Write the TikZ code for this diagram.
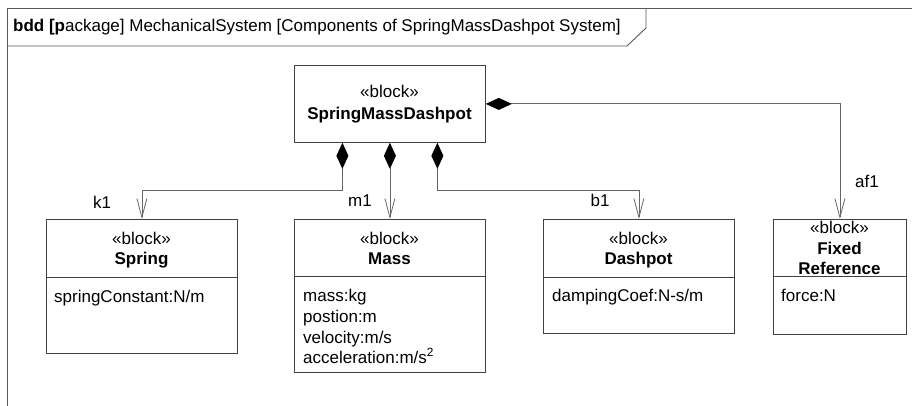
\documentclass[tikz,border=0pt]{standalone}
\usepackage{fontspec}
\setmainfont{Liberation Sans}
\usetikzlibrary{arrows.meta,calc}
\begin{document}
\begin{tikzpicture}[x=1pt,y=-1pt,
  font=\fontsize{17}{20.7}\selectfont,
  frameline/.style={draw=black!65, line width=0.9pt},
  blockbox/.style={draw=black!75, line width=0.8pt, rectangle, inner sep=0pt, anchor=north west},
  divider/.style={draw=black!75, line width=0.8pt},
  txt/.style={inner sep=0pt, anchor=base},
  attr/.style={inner sep=0pt, anchor=base west},
  comp/.style={draw=black!60, line width=0.8pt,
    {Diamond[length=26pt,width=12pt,fill=black,color=black]}-{Straight Barb[length=19pt,width=10pt]}},
]
\useasboundingbox (0,0) rectangle (912,406);
% frame
\draw[frameline] (7,406) -- (7,8) -- (912,8);
\draw[frameline] (7,46) -- (627,46) -- (646,28) -- (646,8);
\node[attr] (title) at (13,32) {\textbf{bdd [p}ackage] MechanicalSystem [Components of SpringMassDashpot System]};

% SpringMassDashpot
\node[blockbox, minimum width=191pt, minimum height=77pt] (smd) at (294,65) {};
\node[txt] (smdst) at (389.5,98) {«block»};
\node[txt] (smdnm) at (389.5,120) {\textbf{SpringMassDashpot}};

% Spring
\node[blockbox, minimum width=191pt, minimum height=134pt] (spring) at (46,219) {};
\draw[divider] (46,277) -- (237,277);
\node[txt] (springst) at (141.5,244) {«block»};
\node[txt] (springnm) at (141.5,264) {\textbf{Spring}};
\node[attr] (springat) at (54,302) {springConstant:N/m};

% Mass
\node[blockbox, minimum width=191pt, minimum height=153pt] (mass) at (294,219) {};
\draw[divider] (294,276) -- (485,276);
\node[txt] (massst) at (389.5,244) {«block»};
\node[txt] (massnm) at (389.5,264) {\textbf{Mass}};
\node[attr] (massat1) at (303,301) {mass:kg};
\node[attr] (massat2) at (303,322) {postion:m};
\node[attr] (massat3) at (303,343) {velocity:m/s};
\node[attr] (massat4) at (303,363) {acceleration:m/s\textsuperscript{2}};

% Dashpot
\node[blockbox, minimum width=191pt, minimum height=114pt] (dash) at (543,219) {};
\draw[divider] (543,277) -- (734,277);
\node[txt] (dashst) at (638.5,244) {«block»};
\node[txt] (dashnm) at (638.5,264) {\textbf{Dashpot}};
\node[attr] (dashat) at (552,301) {dampingCoef:N-s/m};

% Fixed Reference
\node[blockbox, minimum width=133pt, minimum height=115pt] (fixed) at (773,219) {};
\draw[divider] (773,276) -- (906,276);
\node[txt] (fixedst) at (839.5,233) {«block»};
\node[txt] (fixednm) at (839.5,254) {\textbf{Fixed}};
\node[txt] (fixednm2) at (839.5,274) {\textbf{Reference}};
\node[attr] (fixedat) at (781,301) {force:N};

% connectors
\draw[comp] ($(smd.south)+(-47.5,0)$) -- ++(0,48) -| (spring.north);
\draw[comp] (smd.south) -- (mass.north);
\draw[comp] ($(smd.south)+(47.5,0)$) -- ++(0,48) -| (dash.north);
\draw[comp] (smd.east) -| (fixed.north);

% labels
\node[txt] (k1) at (102,208) {k1};
\node[txt] (m1) at (360,206) {m1};
\node[txt] (b1) at (600,206) {b1};
\node[txt] (af1) at (867,188) {af1};
\end{tikzpicture}
\end{document}
